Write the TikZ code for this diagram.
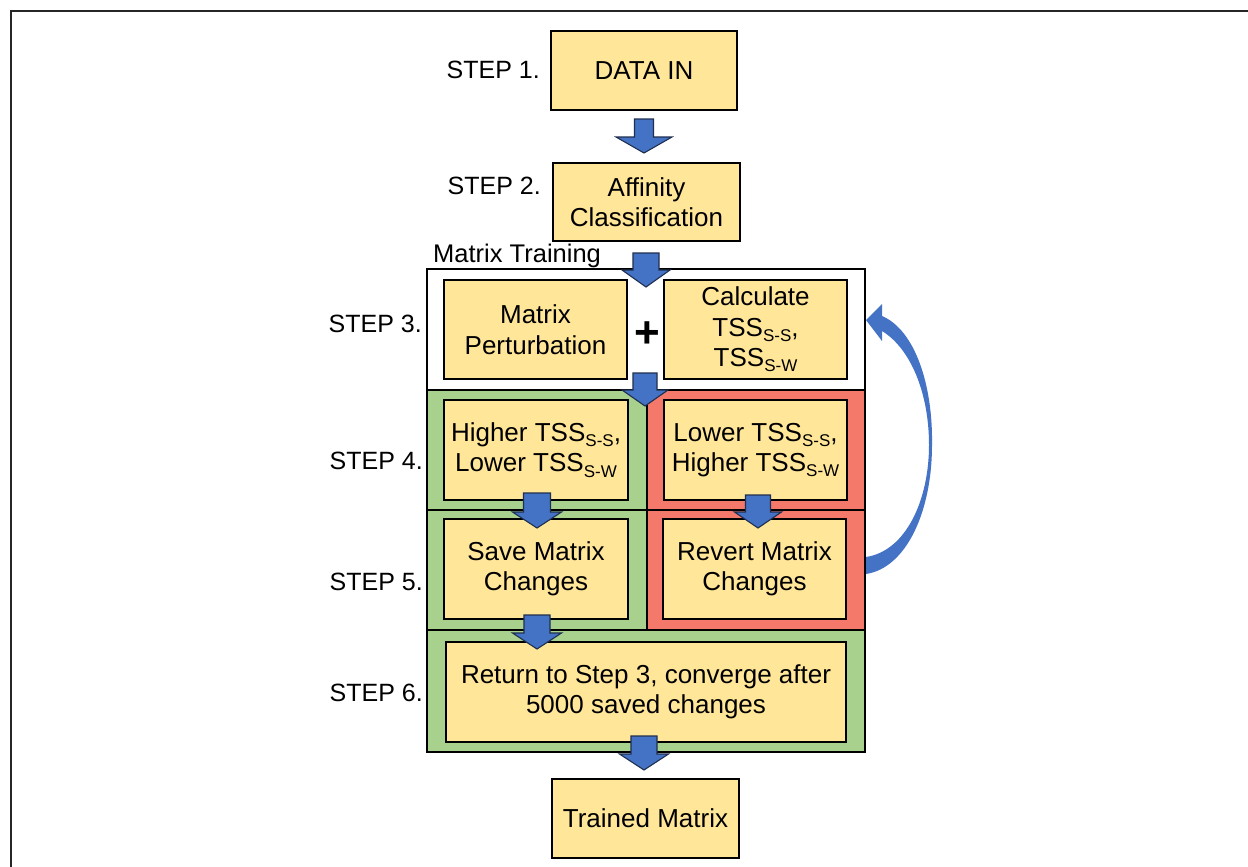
\documentclass[tikz,border=0pt]{standalone}
\usepackage{fontspec}
\setmainfont{Liberation Sans}
\definecolor{boxyellow}{HTML}{FFE699}
\definecolor{cellgreen}{HTML}{A9D18E}
\definecolor{cellred}{HTML}{F4796B}
\definecolor{arrowblue}{HTML}{4472C4}
\definecolor{arrowedge}{HTML}{1F2F4F}
% lowered small text for the TSS indices
\newcommand\sbs[1]{\raisebox{-0.2em}{\fontsize{17}{17}\selectfont #1}}
% block arrow pointing down: centre x, shaft top, head top, tip, shaft half width, head half width
\newcommand\blockdown[6]{%
  \filldraw[blockarrow] (#1-#5,#2) -- (#1+#5,#2) -- (#1+#5,#3) -- (#1+#6,#3)
    -- (#1,#4) -- (#1-#6,#3) -- (#1-#5,#3) -- cycle;}
\begin{document}
\begin{tikzpicture}[x=1pt, y=-1pt, line join=miter,
  box/.style={draw=black, line width=1.8pt, fill=boxyellow, inner sep=0pt,
    align=center, font=\fontsize{26}{30.5}\selectfont},
  steplabel/.style={anchor=base east, inner sep=0pt, font=\fontsize{25}{30}\selectfont},
  cell/.style={draw=black, line width=1.5pt},
  blockarrow/.style={fill=arrowblue, draw=arrowedge, line width=1.1pt}]
\useasboundingbox (0,0) rectangle (1248,867);
\fill[white] (0,0) rectangle (1248,867);

% page frame
\draw[line width=2pt, black!85] (10.5,867) -- (10.5,11.5) -- (1248,11.5);

% coloured cells of the training loop
\filldraw[cell, fill=white]     (427,269) rectangle (865,390);
\filldraw[cell, fill=cellgreen] (427,390) rectangle (647,510);
\filldraw[cell, fill=cellred]   (647,390) rectangle (865,510);
\filldraw[cell, fill=cellgreen] (427,510) rectangle (647,630);
\filldraw[cell, fill=cellred]   (647,510) rectangle (865,630);
\filldraw[cell, fill=cellgreen, line width=2.6pt] (427,630) rectangle (865,752);

% process boxes
\node[box, minimum width=186, minimum height=79] (data) at (644,70.5) {DATA IN};
\node[box, minimum width=187, minimum height=78] (aff) at (646.5,202) {Affinity\\Classification};
\node[box, minimum width=183, minimum height=99] (pert) at (535.5,329.5) {Matrix\\Perturbation};
\node[box, minimum width=183, minimum height=99] (calc) at (755.5,329.5) {Calculate\\TSS\sbs{S-S},\\TSS\sbs{S-W}};
\node[box, minimum width=184, minimum height=100] (hi) at (536,450) {Higher TSS\sbs{S-S},\\Lower TSS\sbs{S-W}};
\node[box, minimum width=183, minimum height=100] (lo) at (755.5,450) {Lower TSS\sbs{S-S},\\Higher TSS\sbs{S-W}};
\node[box, minimum width=184, minimum height=100] (save) at (536,569) {Save Matrix\\Changes};
\node[box, minimum width=183, minimum height=100] (revert) at (754.5,569) {Revert Matrix\\Changes};
\node[box, minimum width=400, minimum height=100] (ret) at (646,692) {Return to Step 3, converge after\\5000 saved changes};
\node[box, minimum width=187, minimum height=79] (trained) at (645.5,818.5) {Trained Matrix};

\node[inner sep=0pt, font=\fontsize{44}{44}\selectfont\bfseries] (plus) at (647,335) {+};
\node[anchor=base west, inner sep=0pt, font=\fontsize{25.5}{30}\selectfont] (mt) at (433,262) {Matrix Training};

% step labels
\node[steplabel] (s1) at (540,79) {STEP 1.};
\node[steplabel] (s2) at (541,194) {STEP 2.};
\node[steplabel] (s3) at (422,332) {STEP 3.};
\node[steplabel] (s4) at (423,469) {STEP 4.};
\node[steplabel] (s5) at (423,590) {STEP 5.};
\node[steplabel] (s6) at (423,701) {STEP 6.};

% flow arrows
\blockdown{644}{119}{137}{153}{9.5}{28}
\blockdown{646}{253}{270}{287}{13}{24}
\blockdown{645}{373}{390}{406}{12}{23}
\blockdown{537}{493}{512}{528}{13.5}{24.5}
\blockdown{758}{495}{512}{528}{12.5}{23.5}
\blockdown{537}{615}{633}{649}{13}{24.5}
\blockdown{644}{736}{754}{770}{13}{24.5}

% loop back from the revert step to the evaluation step
\fill[arrowblue] (866,557) .. controls (906,551) and (929,500) .. (929,445)
  .. controls (929,392) and (910,348) .. (882,331)
  -- (882,341) -- (866,320) -- (882,304) -- (882,316)
  .. controls (915,330) and (933,385) .. (932,445)
  .. controls (932,512) and (906,568) .. (866,574) -- cycle;
\end{tikzpicture}
\end{document}
